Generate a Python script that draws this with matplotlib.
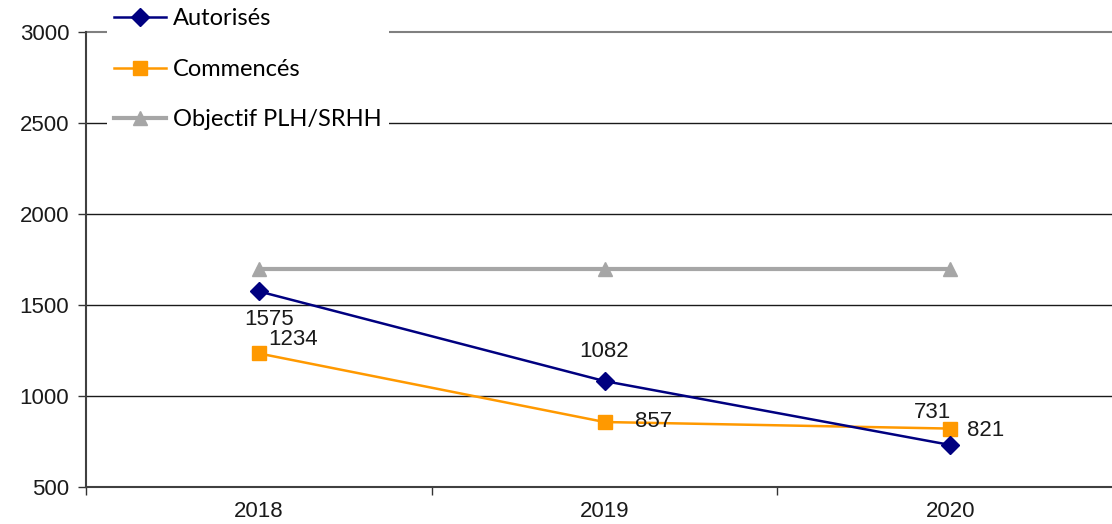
import matplotlib
matplotlib.use("Agg")
import matplotlib.pyplot as plt
from matplotlib.ticker import FixedLocator

years = ["2018", "2019", "2020"]
autorises = [1575, 1082, 731]
commences = [1234, 857, 821]
objectif = [1700, 1700, 1700]

# label offsets in pixels from each point
off_aut = [(10, -28), (0, 30), (-18, 32)]
off_com = [(34, 14), (49, 1), (35, -2)]

plt.rcParams["font.family"] = ["Liberation Sans", "DejaVu Sans"]

fig = plt.figure(figsize=(11.12, 5.24), dpi=100)
ax = fig.add_axes([86 / 1112, 1 - 487 / 524, 1037 / 1112, 455 / 524])
x = range(len(years))

ax.plot(x, autorises, color="#000080", lw=1.8, marker="D", ms=9, label="Autorisés", zorder=4)
ax.plot(x, commences, color="#FF9900", lw=1.8, marker="s", ms=10, label="Commencés", zorder=3)
ax.plot(x, objectif, color="#A6A6A6", lw=3, marker="^", ms=10, label="Objectif PLH/SRHH", zorder=2)

for xi, v, o in zip(x, autorises, off_aut):
    ax.annotate(str(v), (xi, v), xytext=o, textcoords="offset pixels",
                ha="center", va="center", fontsize=16, color="#1a1a1a")
for xi, v, o in zip(x, commences, off_com):
    ax.annotate(str(v), (xi, v), xytext=o, textcoords="offset pixels",
                ha="center", va="center", fontsize=16, color="#1a1a1a")

ax.set_xlim(-0.5, 2.5)
ax.set_ylim(500, 3000)
ax.set_yticks([500, 1000, 1500, 2000, 2500, 3000])
ax.set_xticks(list(x))
ax.set_xticklabels(years)
ax.xaxis.set_minor_locator(FixedLocator([-0.5, 0.5, 1.5]))
ax.tick_params(axis="x", which="major", length=0, pad=10, labelsize=16, labelcolor="#1a1a1a")
ax.tick_params(axis="x", which="minor", length=6, width=1, color="#333333", direction="out")
ax.tick_params(axis="y", length=6, width=1, color="#333333", pad=6, labelsize=16, labelcolor="#1a1a1a")

for y in [1000, 1500, 2000, 2500]:
    ax.axhline(y, color="#1a1a1a", lw=1, zorder=1)
ax.axhline(3000, color="#808080", lw=1.5, zorder=1, clip_on=False)

for s in ["top", "right"]:
    ax.spines[s].set_visible(False)
ax.spines["left"].set_color("#404040")
ax.spines["left"].set_linewidth(1.5)
ax.spines["bottom"].set_color("#404040")
ax.spines["bottom"].set_linewidth(1.5)

leg = fig.legend(loc="upper left", bbox_to_anchor=(95 / 1112, 1.02), frameon=True,
                 facecolor="white", edgecolor="none", framealpha=1, fancybox=False,
                 prop={"family": "Lato", "size": 17}, handlelength=2.2, handletextpad=0.3,
                 labelspacing=1.25, borderpad=0.3)
leg.set_zorder(10)

fig.savefig("out.png", dpi=100)
